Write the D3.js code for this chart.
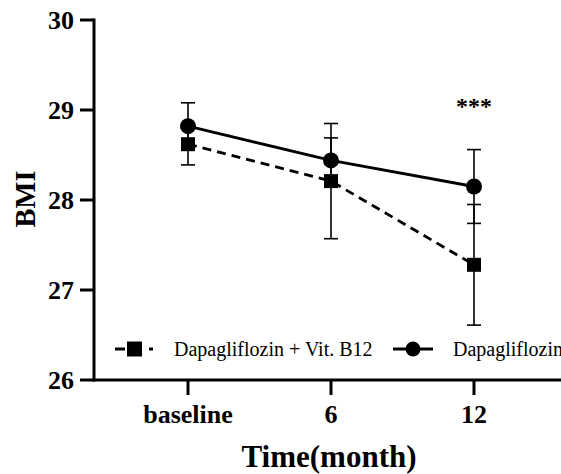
<!DOCTYPE html>
<html>
<head>
<meta charset="utf-8">
<script src="https://cdn.jsdelivr.net/npm/d3@7"></script>
<style>
  body { margin: 0; background: #fff; }
</style>
</head>
<body>
<svg width="561" height="474"></svg>
<script>
var times = ["baseline", "6", "12"];
var combo = [28.62, 28.21, 27.28];      // Dapagliflozin + Vit. B12
var comboSd = [0.23, 0.64, 0.67];
var dapa = [28.82, 28.44, 28.15];       // Dapagliflozin
var dapaSd = [0.26, 0.25, 0.41];
var yTicks = [26, 27, 28, 29, 30];

var serif = "'Liberation Serif', 'Times New Roman', serif";
var svg = d3.select("svg");
var margin = {"top": 20, "right": 0, "bottom": 94, "left": 94};

var x = d3.scalePoint().domain(times).range([188, 474]);
var y = d3.scaleLinear().domain([26, 30]).range([380, 20]);

// y axis
svg.append("line")
    .attr("x1", margin.left).attr("x2", margin.left)
    .attr("y1", y(30) - 1.5).attr("y2", y(26) + 1.5)
    .attr("stroke", "#000").attr("stroke-width", 3);

svg.selectAll(".ytick")
    .data(yTicks)
    .enter().append("line")
    .attr("x1", 80).attr("x2", margin.left)
    .attr("y1", function(d){return y(d);})
    .attr("y2", function(d){return y(d);})
    .attr("stroke", "#000").attr("stroke-width", 3);

svg.selectAll(".ylab")
    .data(yTicks)
    .enter().append("text")
    .attr("x", 74)
    .attr("y", function(d){return y(d) + 9;})
    .attr("text-anchor", "end")
    .style("font-family", serif)
    .attr("font-size", 26).attr("font-weight", "bold")
    .text(function(d){return d;});

// x axis
svg.append("line")
    .attr("x1", margin.left - 1.5).attr("x2", 561)
    .attr("y1", y(26)).attr("y2", y(26))
    .attr("stroke", "#000").attr("stroke-width", 3);

svg.selectAll(".xtick")
    .data(times)
    .enter().append("line")
    .attr("x1", function(d){return x(d);})
    .attr("x2", function(d){return x(d);})
    .attr("y1", y(26)).attr("y2", y(26) + 15)
    .attr("stroke", "#000").attr("stroke-width", 3);

svg.selectAll(".xlab")
    .data(times)
    .enter().append("text")
    .attr("x", function(d){return x(d);})
    .attr("y", 423)
    .attr("text-anchor", "middle")
    .style("font-family", serif)
    .attr("font-size", 26).attr("font-weight", "bold")
    .text(function(d){return d;});

svg.append("text")
    .attr("x", 329).attr("y", 467)
    .attr("text-anchor", "middle")
    .style("font-family", serif)
    .attr("font-size", 31).attr("font-weight", "bold")
    .text("Time(month)");

svg.append("text")
    .attr("transform", "translate(35,199) rotate(-90)")
    .attr("text-anchor", "middle")
    .style("font-family", serif)
    .attr("font-size", 28.5).attr("font-weight", "bold")
    .text("BMI");

// error bars
function errorBars(vals, sds) {
    var g = svg.append("g").attr("stroke", "#000").attr("stroke-width", 1.6);
    vals.forEach(function(v, i) {
        var cx = x(times[i]);
        g.append("line").attr("x1", cx).attr("x2", cx)
            .attr("y1", y(v + sds[i])).attr("y2", y(v - sds[i]));
        [v + sds[i], v - sds[i]].forEach(function(e) {
            g.append("line").attr("x1", cx - 7).attr("x2", cx + 7)
                .attr("y1", y(e)).attr("y2", y(e));
        });
    });
}
errorBars(combo, comboSd);
errorBars(dapa, dapaSd);

var line = d3.line()
    .x(function(d, i){return x(times[i]);})
    .y(function(d){return y(d);});

svg.append("path").datum(combo)
    .attr("d", line).attr("fill", "none")
    .attr("stroke", "#000").attr("stroke-width", 2.8)
    .attr("stroke-dasharray", "9,6");

svg.append("path").datum(dapa)
    .attr("d", line).attr("fill", "none")
    .attr("stroke", "#000").attr("stroke-width", 2.8);

svg.selectAll(".sq")
    .data(combo)
    .enter().append("rect")
    .attr("x", function(d, i){return x(times[i]) - 7;})
    .attr("y", function(d){return y(d) - 7;})
    .attr("width", 14).attr("height", 14)
    .attr("fill", "#000");

svg.selectAll(".dot")
    .data(dapa)
    .enter().append("circle")
    .attr("cx", function(d, i){return x(times[i]);})
    .attr("cy", function(d){return y(d);})
    .attr("r", 8)
    .attr("fill", "#000");

svg.append("text")
    .attr("x", x("12")).attr("y", 114)
    .attr("text-anchor", "middle")
    .style("font-family", serif)
    .attr("font-size", 24).attr("font-weight", "bold")
    .text("***");

// legend
var ly = 349;
var lg = svg.append("g");
lg.append("line").attr("x1", 115).attr("x2", 153).attr("y1", ly).attr("y2", ly)
    .attr("stroke", "#000").attr("stroke-width", 2.8).attr("stroke-dasharray", "10,24,4");
lg.append("rect").attr("x", 127).attr("y", ly - 7.5).attr("width", 15).attr("height", 15).attr("fill", "#000");
lg.append("text").attr("x", 174).attr("y", ly + 7)
    .style("font-family", serif).attr("font-size", 20)
    .text("Dapagliflozin + Vit. B12");
lg.append("line").attr("x1", 393).attr("x2", 433).attr("y1", ly).attr("y2", ly)
    .attr("stroke", "#000").attr("stroke-width", 2.8);
lg.append("circle").attr("cx", 413).attr("cy", ly).attr("r", 7.5).attr("fill", "#000");
lg.append("text").attr("x", 453).attr("y", ly + 7)
    .style("font-family", serif).attr("font-size", 20)
    .text("Dapagliflozin");
</script>
</body>
</html>
